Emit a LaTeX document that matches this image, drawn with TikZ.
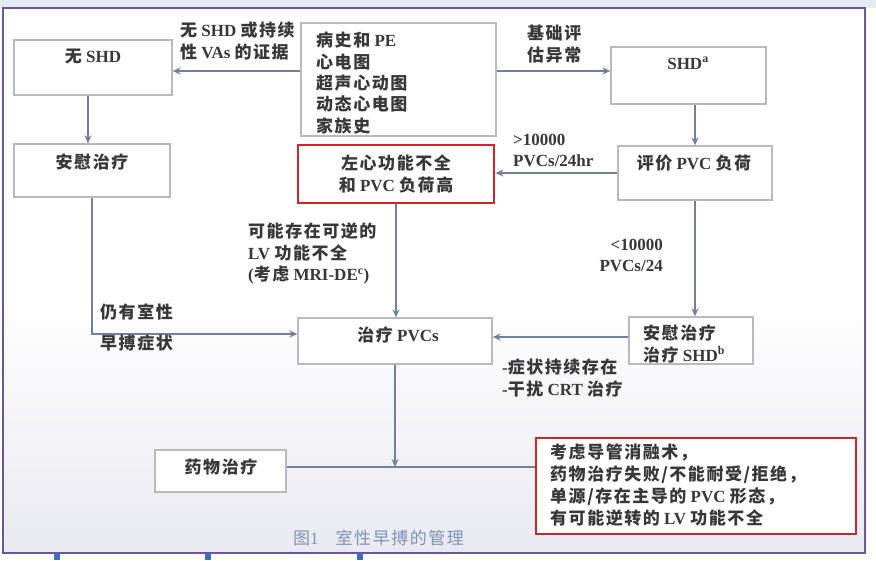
\documentclass[tikz,border=0pt]{standalone}
\usepackage{fontspec}
\usepackage{xcolor}
\usepackage{tikz}
\usetikzlibrary{arrows.meta}
\setmainfont{Liberation Serif}
\newfontfamily\zh[LetterSpace=9]{Noto Sans CJK SC}
\definecolor{framepurple}{HTML}{6D55A0}
\definecolor{boxgray}{HTML}{B9B9BE}
\definecolor{boxred}{HTML}{C8282C}
\definecolor{linegray}{HTML}{72809C}
\definecolor{textdark}{HTML}{383838}
\definecolor{captionblue}{HTML}{7F93B5}
\definecolor{stripblue}{HTML}{E4EBF3}
\definecolor{bgbottom}{HTML}{E9E9F1}
\definecolor{markblue}{HTML}{3A6FC0}

\tikzset{
  box/.style={draw=boxgray, line width=1.3pt, fill=white, inner sep=0pt},
  redbox/.style={draw=boxred, line width=2.8pt, fill=white, inner sep=0pt},
  txt/.style={text=textdark, font=\bfseries\fontsize{17}{21.3}\selectfont, inner sep=0pt},
  conn/.style={draw=linegray, line width=1.6pt},
  flow/.style={conn, -{Stealth[length=8pt,width=7pt]}},
}

\begin{document}
\begin{tikzpicture}[x=1pt, y=-1pt]
\useasboundingbox (0,0) rectangle (876,560);
% background and frame
\fill[white] (0,0) rectangle (876,560);
\fill[stripblue] (0,0) rectangle (876,8);
\fill[top color=white, bottom color=bgbottom] (3,300) rectangle (865,553);
\foreach \mx in {57,208,360}
  \fill[markblue] (\mx-3,554) rectangle (\mx+3,560);
\draw[framepurple, line width=2.6pt] (3,8) rectangle (865,553);

% boxes
\node[box, minimum width=158, minimum height=55] (noshd) at (93,67.5) {};
\node[box, minimum width=195, minimum height=113] (hist) at (398.5,79.5) {};
\node[box, minimum width=155, minimum height=57] (shd) at (688.5,75.5) {};
\node[box, minimum width=156, minimum height=53] (placL) at (92,170.5) {};
\node[redbox, minimum width=196, minimum height=58] (lvd) at (396,174) {};
\node[box, minimum width=154, minimum height=54] (burden) at (695,173) {};
\node[box, minimum width=194, minimum height=46] (treat) at (395,341) {};
\node[box, minimum width=124, minimum height=47] (placR) at (691,340.5) {};
\node[box, minimum width=131, minimum height=42] (drug) at (220.5,471) {};
\node[redbox, minimum width=320, minimum height=96] (ablate) at (696,486) {};

% box texts
\node[txt, anchor=north] (tnoshd) at (93,49) {{\zh 无} SHD};
\node[txt, anchor=north west, align=left] (thist) at (316,32)
  {{\zh 病史和} PE\\{\zh 心电图}\\{\zh 超声心动图}\\{\zh 动态心电图}\\{\zh 家族史}};
\node[txt, anchor=north] (tshd) at (688,57) {SHD\textsuperscript{a}};
\node[txt, anchor=north] (tplacL) at (92,154) {\zh 安慰治疗};
\node[txt, anchor=north, align=center] (tlvd) at (396,155)
  {{\zh 左心功能不全}\\{\zh 和} PVC {\zh 负荷高}};
\node[txt, anchor=north] (tburden) at (694,155) {{\zh 评价} PVC {\zh 负荷}};
\node[txt, anchor=north] (ttreat) at (398,327) {{\zh 治疗} PVCs};
\node[txt, anchor=north west, align=left] (tplacR) at (643,325)
  {{\zh 安慰治疗}\\{\zh 治疗} SHD\textsuperscript{b}};
\node[txt, anchor=north] (tdrug) at (221,459) {\zh 药物治疗};
\node[txt, anchor=north west, align=left, font=\bfseries\fontsize{17}{22}\selectfont] (tablate) at (550,444)
  {{\zh 考虑导管消融术，}\\{\zh 药物治疗失败/不能耐受/拒绝，}\\{\zh 单源/存在主导的} PVC {\zh 形态，}\\{\zh 有可能逆转的} LV {\zh 功能不全}};

% connectors
\coordinate (h1) at ([yshift=8.5pt]hist.west);
\coordinate (a1) at ([xshift=-5pt]noshd.south);
\coordinate (t1) at ([yshift=7pt]treat.west);
\coordinate (r1) at ([yshift=3.5pt]placR.west);
\coordinate (d1) at ([yshift=4pt]drug.east);
\draw[flow] (h1) -- (h1 -| noshd.east);
\draw[flow] (h1 -| hist.east) -- (h1 -| shd.west);
\draw[flow] (a1) -- (a1 |- placL.north);
\draw[flow] (burden.north |- shd.south) -- (burden.north);
\draw[flow] (burden.west) -- (burden.west -| lvd.east);
\draw[flow] (lvd.south) -- (lvd.south |- treat.north);
\draw[flow] (placL.south) |- (t1);
\draw[flow] (burden.south) -- (burden.south |- placR.north);
\draw[flow] (r1) -- (r1 -| treat.east);
\draw[conn] (d1) -- (d1 -| ablate.west);
\draw[flow] (treat.south) -- (treat.south |- d1);

% connector labels
\node[txt, anchor=north west, align=left] (lnoshd) at (180,22)
  {{\zh 无} SHD {\zh 或持续}\\{\zh 性} VAs {\zh 的证据}};
\node[txt, anchor=north west, align=left] (labn) at (527,25)
  {{\zh 基础评}\\{\zh 估异常}};
\node[txt, anchor=north west, align=left] (lgt) at (513,134)
  {>10000\\PVCs/24hr};
\node[txt, anchor=north west, align=left] (lrev) at (248,223)
  {{\zh 可能存在可逆的}\\LV {\zh 功能不全}\\({\zh 考虑} MRI-DE\textsuperscript{c})};
\node[txt, anchor=north west] (lsymA) at (100,303) {\zh 仍有室性};
\node[txt, anchor=north west] (lsymB) at (100,335) {\zh 早搏症状};
\node[txt, anchor=north east, align=right] (llt) at (663,239)
  {<10000\\PVCs/24};
\node[txt, anchor=north west, align=left] (lpersist) at (502,359)
  {-{\zh 症状持续存在}\\-{\zh 干扰} CRT {\zh 治疗}};

% caption
\node[txt, anchor=west, text=captionblue, font=\fontsize{17}{21}\selectfont] (cap) at (293,538)
  {{\zh 图}1\quad{\zh 室性早搏的管理}};
\end{tikzpicture}
\end{document}
